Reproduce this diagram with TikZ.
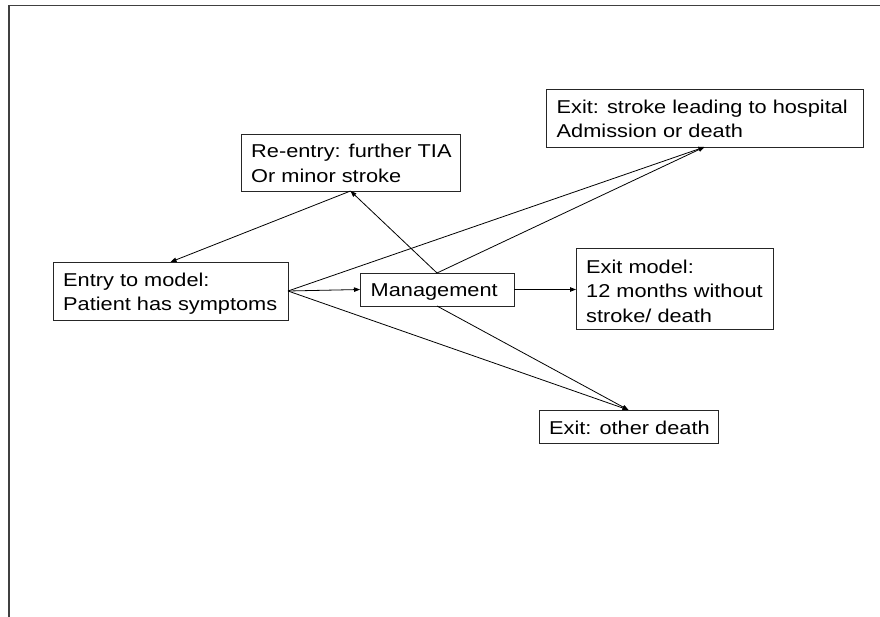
\documentclass[tikz,border=0pt]{standalone}
\usepackage{fontspec}
\setmainfont{Liberation Sans}[FakeStretch=1.17]
\usetikzlibrary{arrows.meta}
\begin{document}
\begin{tikzpicture}[x=1pt,y=-1pt,
  box/.style={draw=black!85, line width=1pt, inner sep=0pt, outer sep=0pt},
  txt/.style={anchor=north west, inner sep=0pt, align=left, font=\fontsize{18.6}{24.6}\selectfont},
  conn/.style={line width=0.8pt, -{Triangle[length=6pt,width=4.5pt]}}
]
\useasboundingbox (0,0) rectangle (880,616);
\draw[line width=1.8pt, black!75] (9,620) -- (9,5.5) -- (884,5.5);

\node[box, minimum width=219pt, minimum height=57pt] (reentry) at (350.5,162.5) {};
\node[box, minimum width=235pt, minimum height=58pt] (entry) at (170.5,291) {};
\node[box, minimum width=154pt, minimum height=33pt] (mgmt) at (437,289.5) {};
\node[box, minimum width=317pt, minimum height=58pt] (stroke) at (704.5,118) {};
\node[box, minimum width=197pt, minimum height=81pt] (exitm) at (674.5,288.5) {};
\node[box, minimum width=179pt, minimum height=33pt] (other) at (628.5,426.5) {};

\node[txt] (reentry-t) at ([shift={(10,10)}]reentry.north west) {Re-entry: further TIA\\Or minor stroke};
\node[txt] (entry-t) at ([shift={(10,10.5)}]entry.north west) {Entry to model:\\Patient has symptoms};
\node[txt] (mgmt-t) at ([shift={(10.5,10.5)}]mgmt.north west) {Management};
\node[txt] (stroke-t) at ([shift={(10.5,10.5)}]stroke.north west) {Exit: stroke leading to hospital\\Admission or death};
\node[txt] (exitm-t) at ([shift={(10,11.5)}]exitm.north west) {Exit model:\\12 months without\\stroke/ death};
\node[txt] (other-t) at ([shift={(10,10.5)}]other.north west) {Exit: other death};

\draw[conn] (reentry.south) -- (entry.north);
\draw[conn] (mgmt.north) -- (reentry.south);
\draw[conn] (mgmt.north) -- (stroke.south);
\draw[conn] (entry.east) -- (stroke.south);
\draw[conn] (entry.east) -- (mgmt.west);
\draw[conn] (entry.east) -- (other.north);
\draw[conn] (mgmt.south) -- (other.north);
\draw[conn] (mgmt.east) -- (mgmt.east -| exitm.west);
\end{tikzpicture}
\end{document}
